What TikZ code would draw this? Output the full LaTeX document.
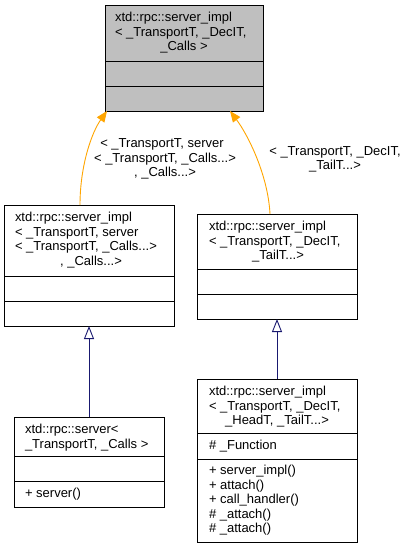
\documentclass[tikz,border=0pt]{standalone}
\usepackage{fontspec}
\setmainfont{Liberation Sans}
\usetikzlibrary{arrows.meta,calc}
\definecolor{hdrgray}{HTML}{BFBFBF}
\definecolor{edgeorange}{HTML}{FFA500}
\definecolor{edgenavy}{HTML}{191970}
\newcommand\lblfont{\fontsize{13}{14.5}\selectfont}
\begin{document}
\begin{tikzpicture}[x=1pt,y=-1pt,
  sec/.style={draw=black, line width=0.9pt, fill=white, inner sep=0pt, outer sep=0pt, anchor=north west},
  grey/.style={fill=hdrgray},
  txt/.style={inner sep=0pt, outer sep=0pt, anchor=base west, font=\lblfont},
  ctxt/.style={inner sep=0pt, outer sep=0pt, anchor=base, font=\lblfont},
  tmpl/.style={draw=edgeorange, line width=0.9pt, -{Triangle[length=11pt,width=9pt]}, fill=none},
  inh/.style={draw=edgenavy, line width=0.9pt, -{Triangle[open,length=13pt,width=10pt,fill=white]}}
]
\useasboundingbox (0,0) rectangle (409,549);

% top class
\node[sec, grey, minimum width=158pt, minimum height=56pt] (T1) at (105,5) {};
\node[sec, grey, minimum width=158pt, minimum height=25pt] (T2) at (105,61) {};
\node[sec, grey, minimum width=158pt, minimum height=25pt] (T3) at (105,86) {};
\node[txt] (T1a) at (115,21.5) {xtd::rpc::server\_impl};
\node[txt] (T1b) at (115,36) {< \_TransportT, \_DecIT,};
\node[ctxt] (T1c) at (184,50.5) {\_Calls >};

% left middle class
\node[sec, minimum width=170pt, minimum height=71pt] (L1) at (4,205) {};
\node[sec, minimum width=170pt, minimum height=25pt] (L2) at (4,276) {};
\node[sec, minimum width=170pt, minimum height=25pt] (L3) at (4,301) {};
\node[txt] (L1a) at (15,221.5) {xtd::rpc::server\_impl};
\node[txt] (L1b) at (15,236) {< \_TransportT, server};
\node[txt] (L1c) at (15,250.5) {< \_TransportT, \_Calls...>};
\node[ctxt] (L1d) at (91,265) {, \_Calls...>};

% right middle class
\node[sec, minimum width=160pt, minimum height=55pt] (R1) at (197,214) {};
\node[sec, minimum width=160pt, minimum height=25pt] (R2) at (197,269) {};
\node[sec, minimum width=160pt, minimum height=25pt] (R3) at (197,294) {};
\node[txt] (R1a) at (209,230.5) {xtd::rpc::server\_impl};
\node[txt] (R1b) at (209,245) {< \_TransportT, \_DecIT,};
\node[ctxt] (R1c) at (278,259.5) {\_TailT...>};

% bottom left class
\node[sec, minimum width=150pt, minimum height=39pt] (B1) at (14,417) {};
\node[sec, minimum width=150pt, minimum height=25pt] (B2) at (14,456) {};
\node[sec, minimum width=150pt, minimum height=26pt] (B3) at (14,481) {};
\node[txt] (B1a) at (25,433.5) {xtd::rpc::server<};
\node[txt] (B1b) at (25,448) {\_TransportT, \_Calls >};
\node[txt] (B3a) at (25,497.5) {+ server()};

% bottom right class
\node[sec, minimum width=160pt, minimum height=54pt] (D1) at (197,379) {};
\node[sec, minimum width=160pt, minimum height=26pt] (D2) at (197,433) {};
\node[sec, minimum width=160pt, minimum height=83pt] (D3) at (197,459) {};
\node[txt] (D1a) at (209,395.5) {xtd::rpc::server\_impl};
\node[txt] (D1b) at (209,410) {< \_TransportT, \_DecIT,};
\node[ctxt] (D1c) at (277,424.5) {\_HeadT, \_TailT...>};
\node[txt] (D2a) at (209,449) {\# \_Function};
\node[txt] (D3a) at (209,474.5) {+ server\_impl()};
\node[txt] (D3b) at (209,489) {+ attach()};
\node[txt] (D3c) at (209,503.5) {+ call\_handler()};
\node[txt] (D3d) at (209,518) {\# \_attach()};
\node[txt] (D3e) at (209,532.5) {\# \_attach()};

% template edges
\draw[tmpl] ($(L1.north west)+(76,0)$) .. controls (80,165) and (92,132) .. ($(T3.south west)+(2,0)$);
\draw[tmpl] ($(R1.north west)+(73,0)$) .. controls (268,175) and (248,135) .. ($(T3.south west)+(125,0)$);
\node[ctxt] (E1a) at (162,147.5) {< \_TransportT, server};
\node[ctxt] (E1b) at (165,162) {< \_TransportT, \_Calls...>};
\node[ctxt] (E1c) at (165,176.5) {, \_Calls...>};
\node[ctxt] (E2a) at (335,155.5) {< \_TransportT, \_DecIT,};
\node[ctxt] (E2b) at (335,169.5) {\_TailT...>};

% inheritance edges
\draw[inh] (B1.north) -- (L3.south);
\draw[inh] (D1.north) -- (R3.south);
\end{tikzpicture}
\end{document}
